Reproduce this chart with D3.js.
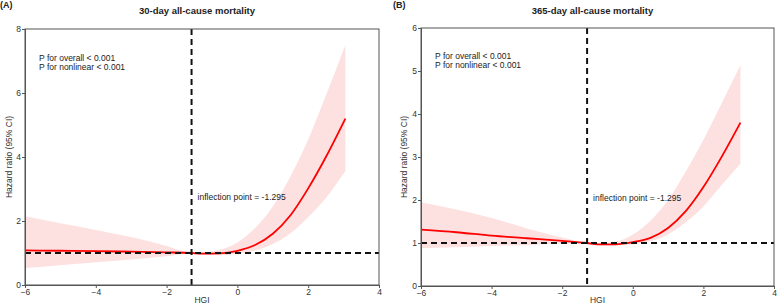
<!DOCTYPE html>
<html><head><meta charset="utf-8">
<script src="https://cdn.jsdelivr.net/npm/d3@7"></script>
<style>body{margin:0;background:#fff}svg{display:block}text{font-family:"Liberation Sans",Arial,sans-serif}</style>
</head><body>
<svg id="c" width="777" height="304"></svg>
<script>
const hgi = [-6,-5,-4,-3,-2,-1.295,-1,-0.5,0,0.5,1,1.5,2,2.5,3.05];
const hrA   = [1.08,1.07,1.06,1.04,1.02,1.0,0.98,0.99,1.07,1.25,1.6,2.18,3.02,4.0,5.2];
const upA   = [2.15,1.93,1.72,1.50,1.22,1.01,1.02,1.10,1.33,1.78,2.45,3.4,4.55,5.92,7.5];
const loA   = [0.53,0.62,0.71,0.80,0.90,0.99,0.95,0.93,0.98,1.08,1.28,1.62,2.12,2.72,3.56];
const hrB   = [1.31,1.25,1.17,1.11,1.05,1.0,0.97,0.97,1.02,1.12,1.35,1.74,2.3,2.98,3.8];
const upB   = [1.95,1.78,1.58,1.34,1.13,1.01,1.0,1.03,1.2,1.52,2.0,2.66,3.4,4.22,5.14];
const loB   = [0.88,0.90,0.93,0.95,0.98,0.99,0.95,0.94,0.97,1.04,1.2,1.48,1.85,2.33,2.85];
const xTicks = [-6,-4,-2,0,2,4];
const yTicksA = [0,2,4,6,8];
const yTicksB = [0,1,2,3,4,5,6];
const inflection = -1.295;
const pText = ["P for overall < 0.001","P for nonlinear < 0.001"];

const svg = d3.select("#c");
function panel(o){
  const g = svg.append("g");
  const x = d3.scaleLinear().domain([-6,4]).range([o.l,o.r]);
  const y = d3.scaleLinear().domain([0,o.ymax]).range([o.b,o.t]);
  const pts = hgi.map((h,i)=>({h,v:o.hr[i],u:o.up[i],lo:o.lo[i]}));
  g.append("path").datum(pts).attr("fill","#fde1e1")
    .attr("d",d3.area().x(d=>x(d.h)).y0(d=>y(d.lo)).y1(d=>y(d.u)).curve(d3.curveMonotoneX));
  g.append("path").datum(pts).attr("fill","none").attr("stroke","#ff0000").attr("stroke-width",1.8)
    .attr("d",d3.line().x(d=>x(d.h)).y(d=>y(d.v)).curve(d3.curveMonotoneX));
  g.append("line").attr("x1",o.l).attr("x2",o.r).attr("y1",y(1)).attr("y2",y(1))
    .attr("stroke","#111").attr("stroke-width",2).attr("stroke-dasharray","6,4");
  g.append("line").attr("x1",x(inflection)).attr("x2",x(inflection)).attr("y1",o.t).attr("y2",o.b)
    .attr("stroke","#111").attr("stroke-width",2).attr("stroke-dasharray","6,4");
  g.append("rect").attr("x",o.l).attr("y",o.t).attr("width",o.r-o.l).attr("height",o.b-o.t)
    .attr("fill","none").attr("stroke","#555").attr("stroke-width",1);
  const xa = g.append("g").attr("transform",`translate(0,${o.b})`)
    .call(d3.axisBottom(x).tickValues(xTicks).tickFormat(d3.format("d")).tickSize(3).tickPadding(1));
  const ya = g.append("g").attr("transform",`translate(${o.l},0)`)
    .call(d3.axisLeft(y).tickValues(o.yt).tickFormat(d3.format("d")).tickSize(3).tickPadding(1));
  [xa,ya].forEach(a=>{a.select(".domain").attr("stroke","#555");a.selectAll(".tick line").attr("stroke","#555");
    a.selectAll("text").attr("font-size",8.5).attr("fill","#333").attr("font-family","Liberation Sans, Arial, sans-serif");});
  g.append("text").attr("x",(o.l+o.r)/2).attr("y",303).attr("text-anchor","middle").attr("font-size",8.5).attr("fill","#333").text("HGI");
  g.append("text").attr("transform",`translate(${o.yl},${(o.t+o.b)/2}) rotate(-90)`).attr("text-anchor","middle")
    .attr("font-size",8.5).attr("fill","#333").text("Hazard ratio (95% CI)");
  g.append("text").attr("x",(o.l+o.r)/2-5).attr("y",14).attr("text-anchor","middle").attr("font-size",9.5).attr("font-weight","bold").attr("fill","#222").text(o.title);
  g.append("text").attr("x",o.tagx).attr("y",8).attr("font-size",9).attr("font-weight","bold").attr("fill","#222").text(o.tag);
  pText.forEach((t,i)=>g.append("text").attr("x",o.l+14).attr("y",o.py+i*9).attr("font-size",8.5).attr("fill","#222").text(t));
  g.append("text").attr("x",x(inflection)+6).attr("y",o.iy).attr("font-size",8.5).attr("fill","#222").text("inflection point = -1.295");
}
panel({l:25,r:379,t:29,b:285,ymax:8,yt:yTicksA,hr:hrA,up:upA,lo:loA,title:"30-day all-cause mortality",tag:"(A)",tagx:0,yl:12,py:61,iy:200});
panel({l:421,r:774,t:28,b:286,ymax:6,yt:yTicksB,hr:hrB,up:upB,lo:loB,title:"365-day all-cause mortality",tag:"(B)",tagx:393,yl:407,py:59,iy:201});
</script>
</body></html>
